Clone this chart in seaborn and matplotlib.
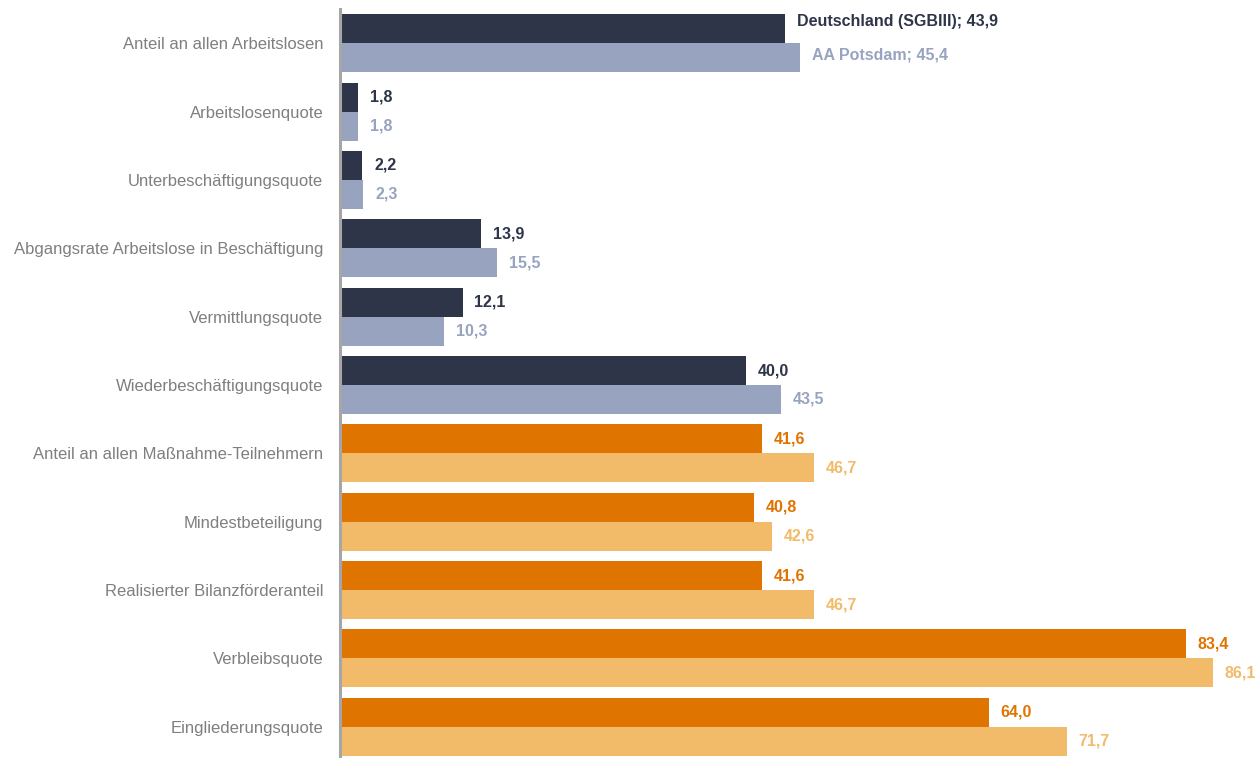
import matplotlib
matplotlib.use("Agg")
import matplotlib.pyplot as plt
import seaborn as sns
import pandas as pd

categories = [
    "Anteil an allen Arbeitslosen",
    "Arbeitslosenquote",
    "Unterbeschäftigungsquote",
    "Abgangsrate Arbeitslose in Beschäftigung",
    "Vermittlungsquote",
    "Wiederbeschäftigungsquote",
    "Anteil an allen Maßnahme-Teilnehmern",
    "Mindestbeteiligung",
    "Realisierter Bilanzförderanteil",
    "Verbleibsquote",
    "Eingliederungsquote",
]
deutschland = [43.9, 1.8, 2.2, 13.9, 12.1, 40.0, 41.6, 40.8, 41.6, 83.4, 64.0]
potsdam = [45.4, 1.8, 2.3, 15.5, 10.3, 43.5, 46.7, 42.6, 46.7, 86.1, 71.7]
series_names = ["Deutschland (SGB III)", "AA Potsdam"]
section = ["A"] * 6 + ["B"] * 5

colors = {
    ("A", 0): "#2E3549",
    ("A", 1): "#98A4BF",
    ("B", 0): "#E07400",
    ("B", 1): "#F2BB69",
}

df = pd.DataFrame({
    "Kategorie": categories * 2,
    "Wert": deutschland + potsdam,
    "Reihe": [series_names[0]] * len(categories) + [series_names[1]] * len(categories),
})

sns.set_theme(style="white")
plt.rcParams["font.family"] = ["Liberation Sans", "DejaVu Sans"]

fig = plt.figure(figsize=(12.6, 7.58), dpi=100)
ax = fig.add_axes([340 / 1260, -3 / 758, 1 - 340 / 1260, 752 / 758])

sns.barplot(data=df, x="Wert", y="Kategorie", hue="Reihe", order=categories,
            hue_order=series_names, orient="h", width=0.848, gap=0,
            saturation=1, legend=False, ax=ax, errorbar=None)

n = len(categories)
vals = [deutschland, potsdam]
for k in range(2):
    for i in range(n):
        p = ax.patches[k * n + i]
        col = colors[(section[i], k)]
        p.set_facecolor(col)
        p.set_edgecolor("none")
        v = vals[k][i]
        txt = f"{v:.1f}".replace(".", ",")
        if i == 0:
            txt = f"{series_names[k].replace(' III', 'III')}; {txt}"
        dy = 0
        if i == 0:
            dy = 5 if k == 0 else 2
        ax.annotate(txt, xy=(p.get_x() + p.get_width(), p.get_y() + p.get_height() / 2),
                    xytext=(8.5, dy), textcoords="offset points", ha="left", va="center",
                    fontsize=11.5, fontweight="bold", color=col)

ax.set_xlim(0, (1260 - 340) / 10.14)
ax.set_xlabel("")
ax.set_ylabel("")
ax.set_xticks([])
ax.tick_params(axis="y", length=0, pad=12, labelsize=12, labelcolor="#7F7F7F")
for s in ["top", "right", "bottom"]:
    ax.spines[s].set_visible(False)
ax.spines["left"].set_color("#A6A6A6")
ax.spines["left"].set_linewidth(2.2)

fig.savefig("out.png", dpi=100)
